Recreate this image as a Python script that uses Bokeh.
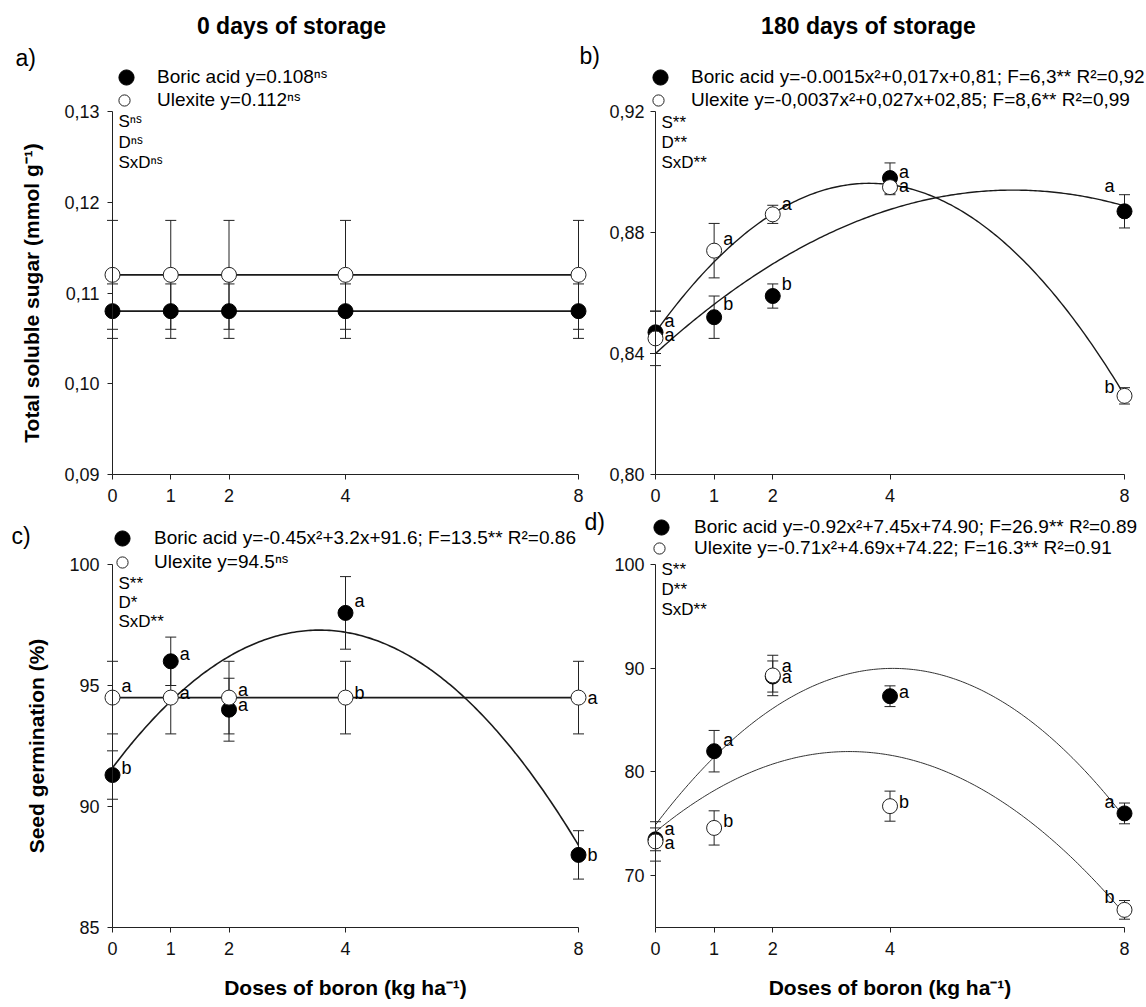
import numpy as np
from bokeh.plotting import figure
from bokeh.models import Range1d, FixedTicker, Legend, LegendItem, Label
from bokeh.layouts import column, row
from bokeh.embed import file_html
from bokeh.resources import INLINE
from bokeh.core.properties import value

FONT = "Liberation Sans"

# ---------------- data ----------------
doses = [0, 1, 2, 4, 8]

# a) total soluble sugar, 0 days
a_boric = [0.108, 0.108, 0.108, 0.108, 0.108]
a_boric_err = [0.003, 0.003, 0.003, 0.003, 0.003]
a_ulex = [0.112, 0.112, 0.112, 0.112, 0.112]
a_ulex_err = [0.006, 0.006, 0.006, 0.006, 0.006]
a_fit_boric = [0.0, 0.0, 0.108]
a_fit_ulex = [0.0, 0.0, 0.112]

# b) total soluble sugar, 180 days
b_boric = [0.847, 0.852, 0.859, 0.898, 0.887]
b_boric_err = [0.007, 0.007, 0.004, 0.005, 0.0055]
b_ulex = [0.845, 0.874, 0.886, 0.895, 0.826]
b_ulex_err = [0.009, 0.009, 0.003, 0.0025, 0.0027]
b_fit_boric = [-0.00145, 0.0177, 0.840]
b_fit_ulex = [-0.0037, 0.027, 0.847]
b_let_boric = ["a", "b", "b", "a", "a"]
b_let_boric_y = [0.8509, 0.8564, 0.8630, 0.9000, 0.8953]
b_let_ulex = ["a", "a", "a", "a", "b"]
b_let_ulex_y = [0.8460, 0.8778, 0.8893, 0.8953, 0.8288]

# c) seed germination, 0 days
c_boric = [91.3, 96.0, 94.0, 98.0, 88.0]
c_boric_err = [1.0, 1.0, 1.3, 1.5, 1.0]
c_ulex = [94.5, 94.5, 94.5, 94.5, 94.5]
c_ulex_err = [1.5, 1.5, 1.5, 1.5, 1.5]
c_fit_boric = [-0.45, 3.2, 91.6]
c_fit_ulex = [0.0, 0.0, 94.5]
c_let_boric = ["b", "a", "a", "a", "b"]
c_let_boric_y = [91.6, 96.3, 94.2, 98.5, 88.0]
c_let_ulex = ["a", "a", "a", "b", "a"]
c_let_ulex_y = [95.0, 94.7, 94.8, 94.7, 94.5]

# d) seed germination, 180 days
d_boric = [73.5, 82.0, 89.2, 87.3, 76.0]
d_boric_err = [1.1, 2.0, 1.5, 1.0, 1.0]
d_ulex = [73.3, 74.6, 89.3, 76.7, 66.7]
d_ulex_err = [1.9, 1.65, 1.95, 1.45, 0.9]
d_fit_boric = [-0.92, 7.45, 74.90]
d_fit_ulex = [-0.71, 4.69, 74.22]
d_let_boric = ["a", "a", "a", "a", "a"]
d_let_boric_y = [74.5, 83.1, 90.2, 87.7, 77.1]
d_let_ulex = ["a", "b", "a", "b", "b"]
d_let_ulex_y = [73.1, 75.3, 89.2, 77.1, 67.9]

a_ticks = [0.09, 0.10, 0.11, 0.12, 0.13]
a_tick_labels = ["0,09", "0,10", "0,11", "0,12", "0,13"]
b_ticks = [0.80, 0.84, 0.88, 0.92]
b_tick_labels = ["0,80", "0,84", "0,88", "0,92"]
c_ticks = [85, 90, 95, 100]
c_tick_labels = ["85", "90", "95", "100"]
d_ticks = [70, 80, 90, 100]
d_tick_labels = ["70", "80", "90", "100"]

a_legend = ["Boric acid y=0.108\u207f\u02e2", "Ulexite y=0.112\u207f\u02e2"]
b_legend = ["Boric acid y=-0.0015x\u00b2+0,017x+0,81; F=6,3** R\u00b2=0,92",
            "Ulexite y=-0,0037x\u00b2+0,027x+02,85; F=8,6** R\u00b2=0,99"]
c_legend = ["Boric acid y=-0.45x\u00b2+3.2x+91.6; F=13.5** R\u00b2=0.86",
            "Ulexite y=94.5\u207f\u02e2"]
d_legend = ["Boric acid y=-0.92x\u00b2+7.45x+74.90; F=26.9** R\u00b2=0.89",
            "Ulexite y=-0.71x\u00b2+4.69x+74.22; F=16.3** R\u00b2=0.91"]

a_stats = ["S\u207f\u02e2", "D\u207f\u02e2", "SxD\u207f\u02e2"]
b_stats = ["S**", "D**", "SxD**"]
c_stats = ["S**", "D*", "SxD**"]
d_stats = ["S**", "D**", "SxD**"]

ylab_sugar = "Total soluble sugar (mmol g\u207b\u00b9)"
ylab_germ = "Seed germination (%)"
xlab = "Doses of boron (kg ha\u207b\u00b9)"

# ---------------- layout constants (pixels) ----------------
LW, RW = 605, 541          # canvas widths of left / right column
TH, BH = 509, 498          # canvas heights of top / bottom row
PLOT_H = 363               # height of the data area
LEFT_X0, LEFT_X8 = 112, 578
RIGHT_X0, RIGHT_X8 = 50, 519   # relative to the right canvas
TOP_GAP, BOT_GAP = 111, 55     # space above the data area


def make_panel(width, height, x0px, x8px, top_gap, yrange, ticks,
               tick_labels, ylabel, xlabel, boric, boric_err, ulex, ulex_err,
               fit_b, fit_u, curve_w, curve_col, legend_texts, leg_specs,
               stats, stats_off, extra_labels, ytick_standoff, letters=None):
    ppu = (x8px - x0px) / 8.0
    xmin = -x0px / ppu
    xmax = 8 + (width - x8px) / ppu
    ylo, yhi = yrange
    ypp = (yhi - ylo) / PLOT_H
    bottom_gap = height - top_gap - PLOT_H
    ymax = yhi + top_gap * ypp
    ymin = ylo - bottom_gap * ypp
    p = figure(width=width, height=height, x_range=Range1d(xmin, xmax),
               y_range=Range1d(ymin, ymax), output_backend="svg", toolbar_location=None,
               min_border_left=0, min_border_right=0, min_border_top=0,
               min_border_bottom=0)
    p.title.visible = False
    p.xgrid.visible = False
    p.ygrid.visible = False
    p.outline_line_color = None
    p.background_fill_color = "white"
    p.border_fill_color = "white"

    for ax in (p.xaxis[0], p.yaxis[0]):
        ax.axis_line_color = "#222222"
        ax.axis_line_width = 1
        ax.major_tick_line_color = "#222222"
        ax.major_tick_out = 5
        ax.major_tick_in = 0
        ax.minor_tick_line_color = None
        ax.major_label_text_font = FONT
        ax.major_label_text_font_size = "18px"
        ax.major_label_text_color = "#111111"
        ax.axis_label_text_font = FONT
        ax.axis_label_text_font_size = "21px"
        ax.axis_label_text_font_style = "bold"
        ax.axis_label_text_color = "black"
    p.xaxis.ticker = FixedTicker(ticks=doses)
    p.xaxis.bounds = (0, 8)
    p.xaxis.fixed_location = ylo
    p.xaxis.major_label_standoff = 9
    p.yaxis.ticker = FixedTicker(ticks=ticks)
    p.yaxis.bounds = (ylo, yhi)
    p.yaxis.fixed_location = 0
    p.yaxis.major_label_overrides = {t: s for t, s in zip(ticks, tick_labels)}
    p.yaxis.major_label_standoff = ytick_standoff
    if ylabel:
        p.yaxis.axis_label = ylabel
        p.yaxis.axis_label_standoff = 18
    if xlabel:
        p.xaxis.axis_label = xlabel
        p.xaxis.axis_label_standoff = 18

    # fitted curves
    xs = np.linspace(0, 8, 201)
    for coef in (fit_b, fit_u):
        p.line(xs, np.polyval(coef, xs), line_color=curve_col, line_width=curve_w)

    # error bars
    for vals, errs in ((boric, boric_err), (ulex, ulex_err)):
        lo = [v - e for v, e in zip(vals, errs)]
        hi = [v + e for v, e in zip(vals, errs)]
        p.segment(x0=doses, y0=lo, x1=doses, y1=hi, line_color="#222222", line_width=1)
        p.scatter(doses, lo, marker="dash", size=11, line_color="#222222", line_width=1)
        p.scatter(doses, hi, marker="dash", size=11, line_color="#222222", line_width=1)

    rb = p.scatter(doses, boric, marker="circle", size=15, fill_color="black",
                   line_color="black", line_width=1)
    ru = p.scatter(doses, ulex, marker="circle", size=15, fill_color="white",
                   line_color="#222222", line_width=1)

    # significance letters
    if letters:
        for txts, ys, left_last in letters:
            idx = list(range(4)) if left_last else list(range(5))
            p.text([doses[i] for i in idx], [ys[i] for i in idx],
                   text=[txts[i] for i in idx], x_offset=9,
                   text_align="left", text_baseline="middle",
                   text_font=value(FONT), text_font_size="18px", text_color="black")
            if left_last:
                p.text([doses[4]], [ys[4]], text=[txts[4]], x_offset=-10,
                       text_align="right", text_baseline="middle",
                       text_font=value(FONT), text_font_size="18px",
                       text_color="black")

    # one single-item legend per treatment, so each key can be placed exactly
    for rend, txt, (gsize, vx, vy, standoff) in zip((rb, ru), legend_texts, leg_specs):
        lg = Legend(items=[LegendItem(label=value(txt), renderers=[rend])],
                    location=(vx, vy), orientation="vertical",
                    glyph_width=gsize, glyph_height=gsize, label_height=gsize,
                    spacing=0, padding=0, margin=0, label_standoff=standoff,
                    border_line_color=None, background_fill_alpha=0,
                    label_text_font=FONT, label_text_font_size="19px",
                    label_text_color="black")
        p.add_layout(lg)

    for s, off in zip(stats, stats_off):
        p.add_layout(Label(x=0, y=yhi, x_offset=6, y_offset=-off, text=s,
                           text_align="left", text_baseline="middle",
                           text_font=FONT, text_font_size="17px", text_color="black"))
    for txt, xo, yo, size, style, align in extra_labels:
        p.add_layout(Label(x=0, y=yhi, x_offset=xo, y_offset=yo, text=txt,
                           text_align=align, text_baseline="middle",
                           text_font=FONT, text_font_size=size,
                           text_font_style=style, text_color="black"))
    return p


# legend key specs: (glyph box size, x of box from canvas left, y of box bottom
# from canvas bottom, label standoff)
pa = make_panel(LW, TH, LEFT_X0, LEFT_X8, TOP_GAP, (0.09, 0.13), a_ticks,
                a_tick_labels, ylab_sugar, None, a_boric, a_boric_err, a_ulex,
                a_ulex_err, a_fit_boric, a_fit_ulex, 1.6, "#1a1a1a",
                a_legend, [(38, 107, TH - 96, 12), (28, 110, TH - 114, 19)],
                a_stats, (10, 31, 51),
                [("0 days of storage", 179, 86, "23px", "bold", "center"),
                 ("a)", -97, 54, "23px", "normal", "left"),
                 ("b)", 467, 56, "23px", "normal", "left")], 8)

pb = make_panel(RW, TH, RIGHT_X0, RIGHT_X8, TOP_GAP, (0.80, 0.92), b_ticks,
                b_tick_labels, None, None, b_boric, b_boric_err, b_ulex, b_ulex_err,
                b_fit_boric, b_fit_ulex, 1.4, "#1a1a1a",
                b_legend, [(38, 36, TH - 96, 12), (28, 39, TH - 114, 19)],
                b_stats, (11, 31, 51),
                [("180 days of storage", 213, 86, "23px", "bold", "center")], 6,
                letters=[(b_let_boric, b_let_boric_y, True),
                         (b_let_ulex, b_let_ulex_y, True)])

pc = make_panel(LW, BH, LEFT_X0, LEFT_X8, BOT_GAP, (85, 100), c_ticks,
                c_tick_labels, ylab_germ, xlab, c_boric, c_boric_err, c_ulex,
                c_ulex_err, c_fit_boric, c_fit_ulex, 1.6, "#1a1a1a",
                c_legend, [(38, 103, BH - 48, 13), (28, 108, BH - 67, 18)],
                c_stats, (19, 38, 57),
                [("c)", -101, 29, "23px", "normal", "left"),
                 ("d)", 472, 43, "23px", "normal", "left")], 8,
                letters=[(c_let_boric, c_let_boric_y, False),
                         (c_let_ulex, c_let_ulex_y, False)])

pd_ = make_panel(RW, BH, RIGHT_X0, RIGHT_X8, BOT_GAP, (65, 100), d_ticks,
                 d_tick_labels, None, xlab, d_boric, d_boric_err, d_ulex, d_ulex_err,
                 d_fit_boric, d_fit_ulex, 1.0, "#333333",
                 d_legend, [(38, 37, BH - 37, 14), (28, 40, BH - 53, 21)],
                 d_stats, (5, 25, 45), [], 6,
                 letters=[(d_let_boric, d_let_boric_y, True),
                          (d_let_ulex, d_let_ulex_y, True)])

layout = column(row(pa, pb), row(pc, pd_))
open("out.html", "w").write(file_html(layout, INLINE))
